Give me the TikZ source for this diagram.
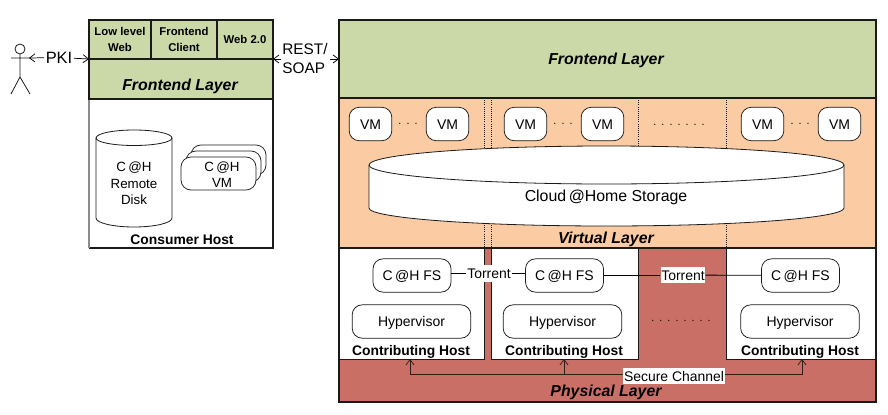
\documentclass[tikz,border=0pt]{standalone}
\usepackage{fontspec}
\setmainfont{Liberation Sans}
\usetikzlibrary{arrows.meta}
\definecolor{fegreen}{HTML}{CBD9A8}
\definecolor{vorange}{HTML}{FBCBA4}
\definecolor{pred}{HTML}{C96F66}
\definecolor{ln}{HTML}{1A1A1A}
\newcommand\dg{\hspace{3.8pt}}
\tikzset{
 px/.style={x=0.75pt,y=-0.75pt},
 layer/.style={draw=ln,line width=0.85pt,inner sep=0},
 rbox/.style={draw=ln,line width=0.55pt,fill=white,rounded corners=7.5pt,align=center,font=\fontsize{10.5}{12}\selectfont,text height=7.5pt,text depth=0pt},
 lbl/.style={align=center,inner sep=0,text=black},
 layertitle/.style={lbl,font=\fontsize{11.9}{14}\selectfont\bfseries\itshape,text height=8.5pt,text depth=0pt},
 hosttitle/.style={lbl,font=\fontsize{10.4}{12}\selectfont\bfseries,text height=7.4pt,text depth=0pt},
 celltitle/.style={lbl,font=\fontsize{8.5}{11.5}\selectfont\bfseries},
 body/.style={lbl,font=\fontsize{10}{12.3}\selectfont},
 big/.style={lbl,font=\fontsize{11.9}{14}\selectfont,text height=8.5pt,text depth=0pt},
 dots/.style={lbl,font=\fontsize{8}{10}\selectfont,text=black},
 whitelbl/.style={lbl,font=\fontsize{10.45}{12}\selectfont,text height=7.5pt,text depth=0pt,fill=white,inner xsep=0.5pt,inner ysep=2.4pt},
 arr/.style={line width=0.55pt,-{Straight Barb[length=4pt,width=6pt]}},
 conn/.style={line width=0.6pt,draw=black},
 sep/.style={line width=0.6pt,densely dotted,draw=ln},
 thin stroke/.style={line width=0.6pt,draw=ln},
}
\begin{document}
\begin{tikzpicture}[px]
\useasboundingbox (0,0) rectangle (888,414);
% ---- consumer host
\fill[white] (89,99) rectangle (273,248);
\draw[layer] (273,99) -- (273,248) -- (89,248);
\draw[layer,draw=black!45] (89,99) -- (89,248);
\fill[fegreen] (89,20) rectangle (273,99);
\draw[layer] (89,20) rectangle (273,99);
\draw[layer] (89,59) -- (273,59);
\draw[layer] (151,20) -- (151,59);
\draw[layer] (217,20) -- (217,59);
\coordinate (cellW) at (89,59);
\coordinate (cellE) at (273,59);
\node[celltitle] (lowweb) at (120,39.5) {Low level\\Web};
\node[celltitle] (feclient) at (184,39.5) {Frontend\\Client};
\node[celltitle] (webtwo) at (245,39) {Web 2.0};
\node[layertitle] (felayerA) at (180,85) {Frontend Layer};
\node[hosttitle] (consumer) at (182,240) {Consumer Host};
% remote disk
\draw[thin stroke,fill=white] (96,138) -- (96,218) arc[start angle=180,end angle=0,x radius=38,y radius=9] -- (172,138) arc[start angle=0,end angle=-180,x radius=38,y radius=8] -- cycle;
\draw[thin stroke] (96,138) arc[start angle=180,end angle=0,x radius=38,y radius=7.5];
\node[body] (rdisk) at (134,183.5) {C\,@H\\Remote\\Disk};
% VM stack
\draw[rbox] (191,145) rectangle (266,175);
\draw[rbox] (186,151) rectangle (261,182);
\node[rbox,minimum width=56.25pt,minimum height=24.75pt,inner sep=0] (cvm) at (218.5,173.5) {};
\node[body] (cvmlbl) at (222,174.5) {C\,@H\\VM};
% actor
\draw[thin stroke] (20,49) circle[radius=5];
\draw[thin stroke] (20,54) -- (20,77) (11,58) -- (30,58) (11,94) -- (20,77) -- (30,94);
\coordinate (actor) at (29,58);
\node[lbl,font=\fontsize{12.3}{14}\selectfont,fill=white,inner xsep=1pt] (pki) at (59,57.5) {PKI};
\draw[arr] (pki) -- (actor);
\draw[arr] (pki) -- (cellW);
\node[lbl,font=\fontsize{11.5}{14.5}\selectfont,align=left] (rest) at (305,58.5) {REST/\\SOAP};
\coordinate (feright) at (339,59);
\draw[arr] (rest.east |- feright) ++(2,0) coordinate (rr) -- (feright);
\draw[arr] (rest.west |- cellE) ++(-1,0) coordinate (rl) -- (cellE);
% ---- cloud
\fill[fegreen] (339,20) rectangle (876,98);
\fill[vorange] (339,98) rectangle (876,248);
\fill[pred] (339,248) rectangle (876,402);
\fill[white] (339,248) rectangle (484,359);
\fill[white] (491,248) rectangle (638,359);
\fill[white] (726,248) rectangle (876,359);
\draw[thin stroke] (484,248) -- (484,359) -- (339,359);
\draw[thin stroke] (491,248) -- (491,359) -- (638,359) -- (638,248);
\draw[thin stroke] (726,248) -- (726,359) -- (876,359);
\draw[sep] (484,98) -- (484,148) (491,98) -- (491,148) (638,98) -- (638,148) (726,98) -- (726,148);
\draw[sep] (484,225) -- (484,248) (491,225) -- (491,248) (726,225) -- (726,248);
\draw[layer] (339,20) rectangle (876,402);
\draw[layer] (339,98) -- (876,98);
\draw[layer] (339,248) -- (876,248);
\node[layertitle] (felayerB) at (606,59) {Frontend Layer};
% VMs
\foreach \n/\xc in {a/370.5,b/447.5,c/525.5,d/602.5,e/762.5,f/839.5}
 \node[rbox,minimum width=32pt,minimum height=25pt,inner sep=0] (vm\n) at (\xc,124) {VM};
\node[dots] (dotsA) at (408,123.5) {.\dg.\dg.};
\node[dots] (dotsB) at (563,123.5) {.\dg.\dg.};
\node[dots] (dotsC) at (679,124.5) {.\dg.\dg.\dg.\dg.\dg.\dg.};
\node[dots] (dotsD) at (800,123.5) {.\dg.\dg.};
% storage
\draw[thin stroke,fill=white] (369,165) -- (369,208) arc[start angle=180,end angle=0,x radius=237.5,y radius=18] -- (844,165) arc[start angle=0,end angle=-180,x radius=237.5,y radius=19] -- cycle;
\draw[thin stroke] (369,165) arc[start angle=180,end angle=0,x radius=237.5,y radius=19];
\node[big] (storage) at (606,196) {Cloud\,@Home Storage};
\node[layertitle] (virt) at (606,238) {Virtual Layer};
% hosts
\foreach \n/\xc in {a/412,b/564.5,c/800.5}
 \node[rbox,minimum width=58.5pt,minimum height=25pt,inner sep=0] (fs\n) at (\xc,275.5) {C\,@H FS};
\foreach \n/\xc in {a/411.5,b/562.5,c/800}
 \node[rbox,minimum width=89pt,minimum height=25pt,inner sep=0] (hv\n) at (\xc,321.5) {Hypervisor};
\foreach \n/\xc in {a/411,b/564,c/800}
 \node[hosttitle] (host\n) at (\xc,351) {Contributing Host};
\node[whitelbl] (torA) at (489,273.5) {Torrent};
\node[whitelbl] (torB) at (683,275) {Torrent};
\draw[conn] (fsa.east |- torA) -- (torA);
\draw[conn] (torA) -- (fsb.west |- torA);
\draw[conn] (fsb.east |- torB) -- (torB);
\draw[conn] (torB) -- (fsc);
\node[dots] (dotsE) at (681,321) {.\dg.\dg.\dg.\dg.\dg.\dg.\dg.};
% physical
\node[layertitle] (phys) at (606,391) {Physical Layer};
\coordinate (chA) at (410,359);
\coordinate (chB) at (564,359);
\coordinate (chC) at (802,359);
\coordinate (chMid) at (564,374);
\node[whitelbl] (secure) at (674,376) {Secure Channel};
\draw[arr,draw=black!75!pred] (secure.west |- chMid) -- (chMid -| chA) -- (chA);
\draw[arr,draw=black!75!pred] (chMid) -- (chB);
\draw[arr,draw=black!75!pred] (secure.east |- chMid) -- (chC |- chMid) -- (chC);
\end{tikzpicture}
\end{document}
